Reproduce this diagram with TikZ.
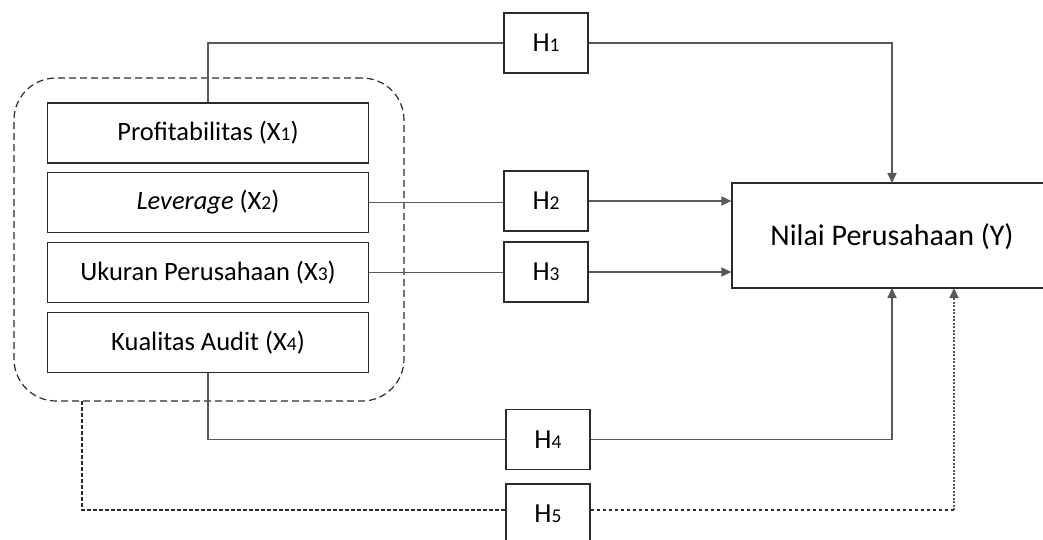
\documentclass[tikz,border=0pt]{standalone}
\usepackage{fontspec}
\setmainfont{Carlito}
\usetikzlibrary{arrows.meta,calc}
\definecolor{lineg}{HTML}{595959}
\definecolor{boxc}{HTML}{2B2B2B}
\newcommand{\sd}[1]{{\fontsize{19.5}{19.5}\selectfont #1}}
\tikzset{
  varbox/.style={draw=boxc,line width=1.2pt,minimum width=321pt,minimum height=60pt,inner sep=0pt,font=\fontsize{26.5}{29}\selectfont},
  hbox/.style={draw=boxc,line width=1.2pt,minimum width=84pt,minimum height=60pt,inner sep=0pt,font=\fontsize{27.5}{30}\selectfont},
  conn/.style={draw=lineg,line width=1.7pt},
  tip/.style={-{Triangle[length=10pt,width=9pt]}},
  dconn/.style={draw=boxc,line width=1.1pt,dash pattern=on 3.5pt off 2.5pt},
  vdconn/.style={draw=lineg,line width=1.6pt,dash pattern=on 2pt off 1.5pt},
}
\begin{document}
\begin{tikzpicture}[x=1pt,y=-1pt]
\useasboundingbox (0,0) rectangle (1043,540);
\begin{scope}
\clip (0,0) rectangle (1043,540);
% group
\node[draw=boxc,line width=1.2pt,dash pattern=on 7pt off 4pt,rounded corners=42pt,minimum width=390pt,minimum height=323pt,inner sep=0pt] (grp) at (209,239.5) {};
% variables
\node[varbox] (x1) at (208,133) {Profitabilitas (X\sd{1})};
\node[varbox] (x2) at (208,202.5) {\textit{Leverage} (X\sd{2})};
\node[varbox] (x3) at (208,272.5) {Ukuran Perusahaan (X\sd{3})};
\node[varbox] (x4) at (208,342.5) {Kualitas Audit (X\sd{4})};
% hypotheses
\node[hbox] (h1) at (546,43) {H\sd{1}};
\node[hbox] (h2) at (546,201) {H\sd{2}};
\node[hbox] (h3) at (546,272) {H\sd{3}};
\node[hbox] (h4) at (548,439.5) {H\sd{4}};
\node[hbox] (h5) at (548,514) {H\sd{5}};
% dependent
\node[draw=boxc,line width=1.2pt,minimum width=320pt,minimum height=105pt,inner sep=0pt] (y) at (892,235.5) {};
\node[font=\fontsize{30}{34}\selectfont] (yt) at (892,237) {Nilai Perusahaan (Y)};
% connectors
\coordinate (t1) at (892,183);
\coordinate (b1) at (892,288);
\coordinate (b2) at (954,288);
\coordinate (g5) at (82,401);
\coordinate (c5) at (954,510);
\draw[conn] (x1.north) |- (h1.west);
\draw[conn,tip] (h1.east) -| (t1);
\draw[conn] (x2.east) -- (x2.east -| h2.west);
\draw[conn,tip] (h2.east) -- (h2.east -| y.west);
\draw[conn] (x3.east) -- (x3.east -| h3.west);
\draw[conn,tip] (h3.east) -- (h3.east -| y.west);
\draw[conn] (x4.south) |- (h4.west);
\draw[conn,tip] (h4.east) -| (b1);
\draw[dconn] (g5) |- ([yshift=4pt]h5.west);
\draw[dconn] ([yshift=4pt]h5.east) -- (c5);
\draw[vdconn,tip] (c5) -- (b2);
\end{scope}
\end{tikzpicture}
\end{document}
